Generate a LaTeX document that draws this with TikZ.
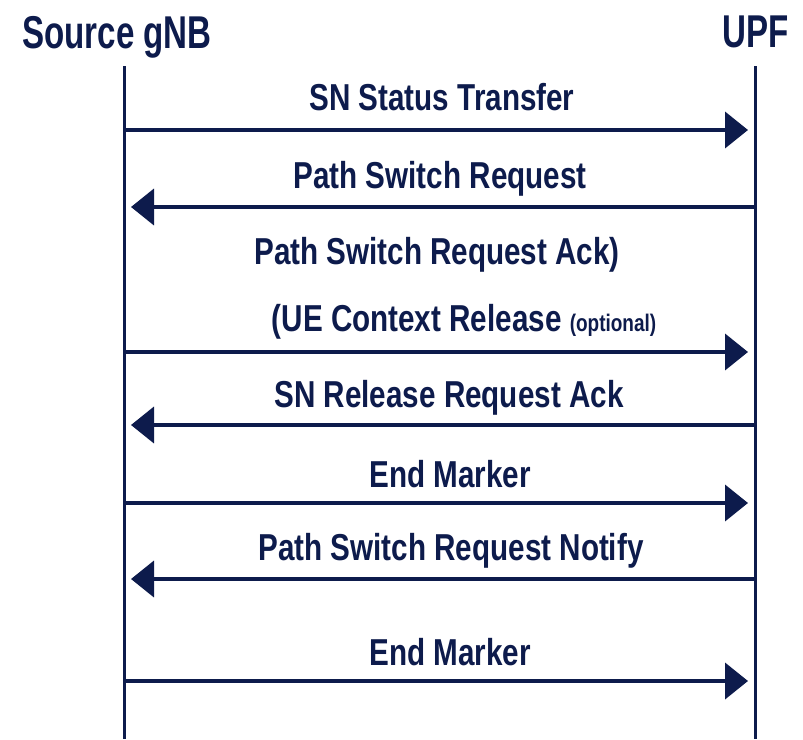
\documentclass[tikz,border=0pt]{standalone}
\usepackage{fontspec}
\setmainfont{Liberation Sans}
\newfontfamily\lblfont[FakeStretch=0.79]{Liberation Sans}
\newfontfamily\hdrfont[FakeStretch=0.72]{Liberation Sans}
\usetikzlibrary{arrows.meta}
\definecolor{navy}{HTML}{0D1B4C}
\begin{document}
\begin{tikzpicture}[x=1pt,y=-1pt,
  lbl/.style={inner sep=0pt, anchor=base, text=navy, font=\lblfont\bfseries\fontsize{37.5}{40}\selectfont},
  hdr/.style={inner sep=0pt, anchor=base, text=navy, font=\hdrfont\bfseries\fontsize{46}{50}\selectfont},
  life/.style={draw=navy, line width=3pt},
  msg/.style={draw=navy, line width=4pt, -{Triangle[length=23pt,width=36pt]}}]
\useasboundingbox[fill=white] (0,0) rectangle (803,739);
% headers
\node[hdr] (src) at (117,48) {Source gNB};
\node[hdr] (upf) at (756,47) {UPF};
% lifelines
\coordinate (Ltop) at (124,66);
\coordinate (Lbot) at (124,739);
\coordinate (Rtop) at (755,66);
\coordinate (Rbot) at (755,739);
\draw[life] (Ltop) -- (Lbot);
\draw[life] (Rtop) -- (Rbot);
% message endpoints
\foreach \n/\y in {1/130,2/207,3/352,4/425,5/503,6/579,7/681}{
  \coordinate (L\n) at (124,\y);
  \coordinate (R\n) at (755,\y);
  \coordinate (Lt\n) at (131,\y);
  \coordinate (Rt\n) at (748,\y);
}
% labels
\node[lbl] (t1) at (442,110) {SN Status Transfer};
\node[lbl] (t2) at (440,188) {Path Switch Request};
\node[lbl] (t3) at (437,264) {Path Switch Request Ack)};
\node[lbl] (t4) at (464,331) {(UE Context Release {\fontsize{24}{26}\selectfont (optional)}};
\node[lbl] (t5) at (449,407) {SN Release Request Ack};
\node[lbl] (t6) at (450,487) {End Marker};
\node[lbl] (t7) at (451,560) {Path Switch Request Notify};
\node[lbl] (t8) at (450,665) {End Marker};
% arrows
\draw[msg] (L1) -- (Rt1);
\draw[msg] (R2) -- (Lt2);
\draw[msg] (L3) -- (Rt3);
\draw[msg] (R4) -- (Lt4);
\draw[msg] (L5) -- (Rt5);
\draw[msg] (R6) -- (Lt6);
\draw[msg] (L7) -- (Rt7);
\end{tikzpicture}
\end{document}
